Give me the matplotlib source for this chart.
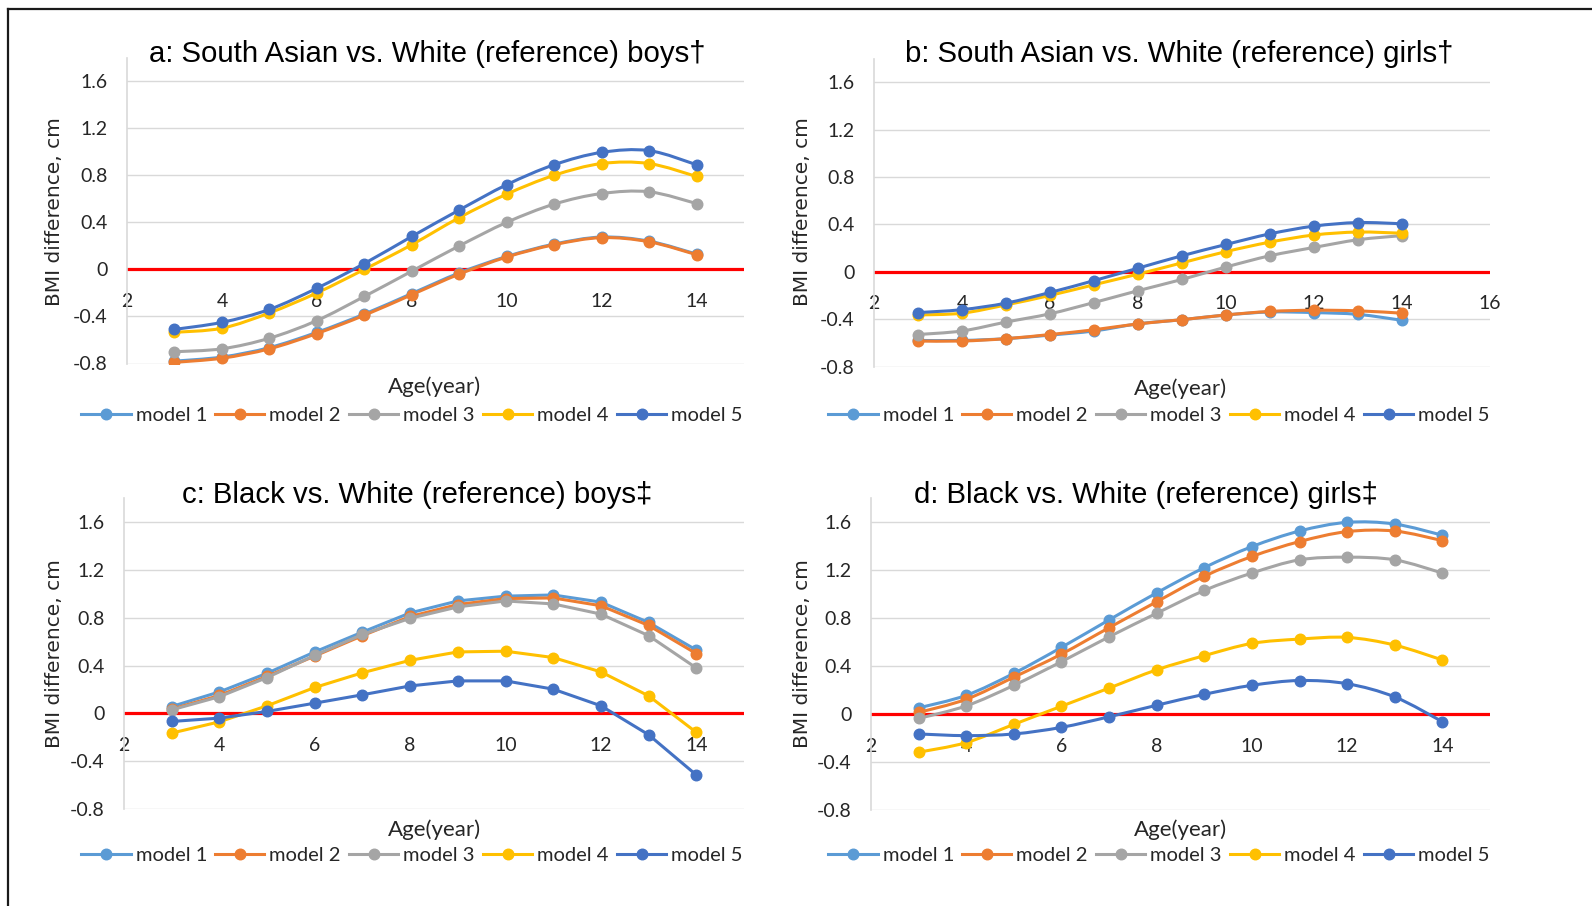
import numpy as np
import matplotlib
matplotlib.use("Agg")
import matplotlib.pyplot as plt
from matplotlib.path import Path
from matplotlib.patches import PathPatch
from matplotlib.lines import Line2D

# ---------------- data ----------------
ages = [3, 4, 5, 6, 7, 8, 9, 10, 11, 12, 13, 14]
model_names = ["model 1", "model 2", "model 3", "model 4", "model 5"]
model_colors = ["#5B9BD5", "#ED7D31", "#A5A5A5", "#FFC000", "#4472C4"]
y_ticks = [-0.8, -0.4, 0, 0.4, 0.8, 1.2, 1.6]

# a: South Asian vs. White boys
sa_boys_m1 = [-0.78, -0.745, -0.665, -0.535, -0.38, -0.205, -0.03, 0.11, 0.215, 0.275, 0.24, 0.13]
sa_boys_m2 = [-0.79, -0.755, -0.675, -0.545, -0.39, -0.215, -0.04, 0.105, 0.21, 0.27, 0.235, 0.125]
sa_boys_m3 = [-0.70, -0.675, -0.585, -0.435, -0.23, -0.015, 0.20, 0.40, 0.555, 0.645, 0.66, 0.56]
sa_boys_m4 = [-0.535, -0.50, -0.37, -0.20, 0.0, 0.21, 0.44, 0.64, 0.80, 0.90, 0.90, 0.79]
sa_boys_m5 = [-0.51, -0.45, -0.34, -0.16, 0.05, 0.28, 0.505, 0.72, 0.89, 0.995, 1.01, 0.89]

# b: South Asian vs. White girls
sa_girls_m1 = [-0.58, -0.58, -0.565, -0.535, -0.50, -0.44, -0.405, -0.365, -0.34, -0.345, -0.36, -0.41]
sa_girls_m2 = [-0.585, -0.585, -0.565, -0.53, -0.49, -0.44, -0.405, -0.365, -0.335, -0.325, -0.33, -0.35]
sa_girls_m3 = [-0.53, -0.50, -0.425, -0.355, -0.26, -0.16, -0.065, 0.04, 0.135, 0.205, 0.27, 0.305]
sa_girls_m4 = [-0.365, -0.35, -0.28, -0.20, -0.11, -0.02, 0.075, 0.17, 0.25, 0.31, 0.335, 0.325]
sa_girls_m5 = [-0.345, -0.32, -0.265, -0.175, -0.075, 0.03, 0.135, 0.23, 0.32, 0.385, 0.415, 0.405]

# c: Black vs. White boys
bl_boys_m1 = [0.058, 0.18, 0.336, 0.514, 0.68, 0.84, 0.94, 0.98, 0.99, 0.93, 0.76, 0.53]
bl_boys_m2 = [0.036, 0.15, 0.31, 0.48, 0.65, 0.81, 0.91, 0.96, 0.965, 0.90, 0.735, 0.50]
bl_boys_m3 = [0.03, 0.14, 0.30, 0.486, 0.66, 0.795, 0.89, 0.94, 0.915, 0.83, 0.65, 0.38]
bl_boys_m4 = [-0.164, -0.07, 0.064, 0.217, 0.34, 0.444, 0.514, 0.52, 0.467, 0.347, 0.147, -0.158]
bl_boys_m5 = [-0.067, -0.039, 0.017, 0.086, 0.156, 0.23, 0.272, 0.272, 0.203, 0.064, -0.178, -0.514]

# d: Black vs. White girls
bl_girls_m1 = [0.052, 0.157, 0.34, 0.556, 0.785, 1.01, 1.22, 1.395, 1.525, 1.597, 1.583, 1.49]
bl_girls_m2 = [0.014, 0.124, 0.308, 0.50, 0.72, 0.936, 1.148, 1.313, 1.437, 1.52, 1.525, 1.445]
bl_girls_m3 = [-0.036, 0.069, 0.24, 0.437, 0.644, 0.84, 1.03, 1.175, 1.285, 1.307, 1.285, 1.175]
bl_girls_m4 = [-0.317, -0.237, -0.085, 0.066, 0.217, 0.369, 0.487, 0.589, 0.625, 0.639, 0.575, 0.451]
bl_girls_m5 = [-0.165, -0.179, -0.165, -0.11, -0.022, 0.074, 0.165, 0.24, 0.28, 0.253, 0.143, -0.063]

titles = [
    "a: South Asian vs. White (reference) boys\u2020",
    "b: South Asian vs. White (reference) girls\u2020",
    "c: Black vs. White (reference) boys\u2021",
    "d: Black vs. White (reference) girls\u2021",
]

# ---------------- layout (pixels) ----------------
W, H = 1592, 906
TITLE_FONT = ["Liberation Sans", "DejaVu Sans"]
TICK_FONT = ["Lato", "DejaVu Sans"]
YLAB_FONT = ["DejaVu Sans"]

panels = [
    dict(series=[sa_boys_m1, sa_boys_m2, sa_boys_m3, sa_boys_m4, sa_boys_m5],
         box=(127, 57.7, 744, 363.5), xmax=15, xticks=[2, 4, 6, 8, 10, 12, 14],
         smooth=True, title_xy=(427.6, 54), xlab_xy=(435, 387), ylab_xy=(55, 212),
         leg_xy=(412, 415)),
    dict(series=[sa_girls_m1, sa_girls_m2, sa_girls_m3, sa_girls_m4, sa_girls_m5],
         box=(874, 58.5, 1490, 366.5), xmax=16, xticks=[2, 4, 6, 8, 10, 12, 14, 16],
         smooth=True, title_xy=(1178.8, 54), xlab_xy=(1181, 389), ylab_xy=(802, 212),
         leg_xy=(1159, 415)),
    dict(series=[bl_boys_m1, bl_boys_m2, bl_boys_m3, bl_boys_m4, bl_boys_m5],
         box=(124, 498, 744, 809.2), xmax=15, xticks=[2, 4, 6, 8, 10, 12, 14],
         smooth=False, title_xy=(417.3, 495), xlab_xy=(435, 830), ylab_xy=(55, 654),
         leg_xy=(412, 855)),
    dict(series=[bl_girls_m1, bl_girls_m2, bl_girls_m3, bl_girls_m4, bl_girls_m5],
         box=(871, 498, 1490, 810.2), xmax=15, xticks=[2, 4, 6, 8, 10, 12, 14],
         smooth=True, title_xy=(1145.8, 495), xlab_xy=(1181, 830), ylab_xy=(802, 654),
         leg_xy=(1159, 855)),
]


def fx(x):
    return x / W


def fy(y):
    return 1 - y / H


def smooth_path(x, y):
    """Bezier path through the points with Catmull-Rom style control points."""
    pts = np.column_stack([x, y]).astype(float)
    n = len(pts)
    verts = [pts[0]]
    codes = [Path.MOVETO]
    for i in range(n - 1):
        p0 = pts[max(i - 1, 0)]
        p1 = pts[i]
        p2 = pts[i + 1]
        p3 = pts[min(i + 2, n - 1)]
        c1 = p1 + (p2 - p0) / 6.0
        c2 = p2 - (p3 - p1) / 6.0
        verts += [c1, c2, p2]
        codes += [Path.CURVE4] * 3
    return Path(verts, codes)


fig = plt.figure(figsize=(W / 100, H / 100), dpi=100)
fig.patch.set_facecolor("white")

LW = 2.2
MS = 7.6
TICK_SIZE = 14
LEG_SIZE = 14.5

for i, p in enumerate(panels):
    l, t, r, b = p["box"]
    ax = fig.add_axes([fx(l), fy(b), (r - l) / W, (b - t) / H])
    ax.set_xlim(2, p["xmax"])
    ax.set_ylim(-0.8, 1.8)
    ax.set_yticks(y_ticks)
    ax.set_yticklabels(["-0.8", "-0.4", "0", "0.4", "0.8", "1.2", "1.6"])
    ax.set_xticks(p["xticks"])
    ax.set_xticklabels([str(v) for v in p["xticks"]])

    for side in ("top", "right"):
        ax.spines[side].set_visible(False)
    ax.spines["bottom"].set_position(("data", 0))
    ax.spines["bottom"].set_visible(False)
    ax.spines["left"].set_color("#d9d9d9")
    ax.spines["left"].set_linewidth(1.2)

    ax.grid(axis="y", color="#d9d9d9", linewidth=1.0)
    ax.set_axisbelow(True)
    ax.tick_params(axis="both", length=0, labelsize=TICK_SIZE, colors="#000000")
    ax.tick_params(axis="y", pad=14)
    ax.tick_params(axis="x", pad=17)
    for lab in ax.get_xticklabels() + ax.get_yticklabels():
        lab.set_family(TICK_FONT)
        lab.set_color("#262626")

    # zero reference line
    ax.axhline(0, color="#ff0000", linewidth=2.3, zorder=2)

    for k, (vals, color) in enumerate(zip(p["series"], model_colors)):
        z = 3 + k
        if p["smooth"]:
            patch = PathPatch(smooth_path(ages, vals), facecolor="none",
                              edgecolor=color, linewidth=LW, zorder=z,
                              joinstyle="round", capstyle="round")
            ax.add_patch(patch)
            ax.plot(ages, vals, linestyle="none", marker="o", markersize=MS,
                    color=color, zorder=z)
        else:
            ax.plot(ages, vals, color=color, linewidth=LW, marker="o",
                    markersize=MS, zorder=z, solid_joinstyle="round")

    handles = [Line2D([], [], color=c, linewidth=LW, marker="o", markersize=MS)
               for c in model_colors]
    leg = ax.legend(handles, model_names, loc="center",
                    bbox_to_anchor=(fx(p["leg_xy"][0]), fy(p["leg_xy"][1])),
                    bbox_transform=fig.transFigure, ncol=5, frameon=False,
                    prop={"family": TICK_FONT, "size": LEG_SIZE},
                    handlelength=2.45, handletextpad=0.25, columnspacing=0.4,
                    borderpad=0, borderaxespad=0)
    for txt in leg.get_texts():
        txt.set_color("#262626")

    fig.text(fx(p["title_xy"][0]), fy(p["title_xy"][1]), titles[i],
             ha="center", va="center", fontsize=21.2, family=TITLE_FONT,
             color="#000000")
    fig.text(fx(p["xlab_xy"][0]), fy(p["xlab_xy"][1]), "Age(year)",
             ha="center", va="center", fontsize=16, family=TICK_FONT,
             color="#262626")
    fig.text(fx(p["ylab_xy"][0]), fy(p["ylab_xy"][1]), "BMI difference, cm",
             ha="center", va="center", rotation=90, fontsize=14.5,
             family=YLAB_FONT, color="#262626")

# outer frame (top and left edges)
fig.add_artist(Line2D([fx(8), 1.0], [fy(9), fy(9)], color="#1a1a1a",
                      linewidth=1.6, transform=fig.transFigure))
fig.add_artist(Line2D([fx(8), fx(8)], [fy(9), 0.0], color="#1a1a1a",
                      linewidth=1.6, transform=fig.transFigure))

fig.savefig("out.png", dpi=100, facecolor="white")
